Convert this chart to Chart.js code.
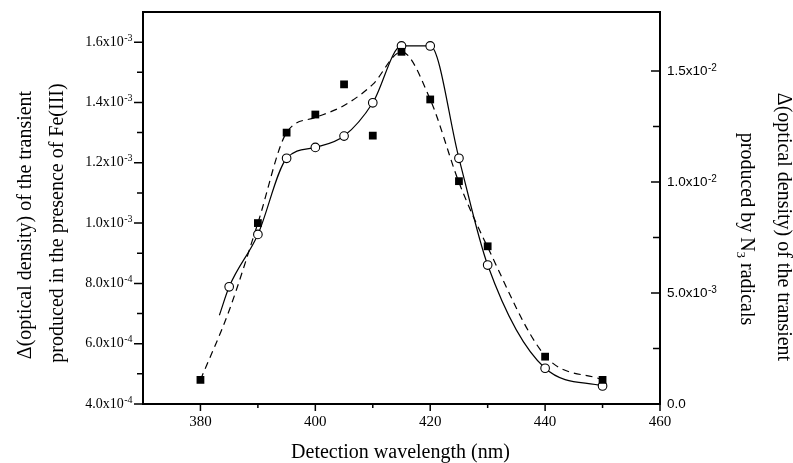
<!DOCTYPE html>
<html>
<head>
<meta charset="utf-8">
<script src="https://cdn.jsdelivr.net/npm/chart.js@4.4.1/dist/chart.umd.min.js"></script>
<style>
  html, body { margin: 0; padding: 0; background: #fff; }
  #chart { display: block; }
</style>
</head>
<body>
<canvas id="chart" width="793" height="463"></canvas>
<script>
// Fe(III) transient (left axis), filled squares
const feWavelengths = [380, 390, 395, 400, 405, 410, 415, 420, 425, 430, 440, 450];
const feValues = [4.8e-4, 1.0e-3, 1.30e-3, 1.36e-3, 1.46e-3, 1.29e-3, 1.568e-3, 1.41e-3, 1.139e-3, 0.923e-3, 5.57e-4, 4.8e-4];

// dashed curve drawn through the Fe(III) points
const feFitWavelengths = [380, 385, 390, 395, 400, 405, 410, 415, 420, 425, 430, 440, 450];
const feFitValues = [4.8e-4, 7.1e-4, 1.0e-3, 1.30e-3, 1.35e-3, 1.39e-3, 1.46e-3, 1.568e-3, 1.41e-3, 1.135e-3, 0.92e-3, 5.6e-4, 4.8e-4];

// N3 radical transient (right axis), open circles
const n3Wavelengths = [385, 390, 395, 400, 405, 410, 415, 420, 425, 430, 440, 450];
const n3Values = [5.28e-3, 7.64e-3, 11.07e-3, 11.56e-3, 12.07e-3, 13.57e-3, 16.13e-3, 16.13e-3, 11.07e-3, 6.26e-3, 1.61e-3, 0.81e-3];

// solid curve through the N3 points
const n3FitWavelengths = [383.3, 385, 390, 395, 400, 405, 410, 415, 420, 425, 430, 440, 450];
const n3FitValues = [4.0e-3, 5.28e-3, 7.64e-3, 11.07e-3, 11.56e-3, 12.07e-3, 13.57e-3, 16.13e-3, 16.13e-3, 11.07e-3, 6.26e-3, 1.61e-3, 0.81e-3];

// ticks
const xMajorTicks = [380, 400, 420, 440, 460];
const xMinorTicks = [390, 410, 430, 450];
const leftMajorTicks = [4e-4, 6e-4, 8e-4, 1.0e-3, 1.2e-3, 1.4e-3, 1.6e-3];
const leftTickLabels = [['4.0x10', '-4'], ['6.0x10', '-4'], ['8.0x10', '-4'], ['1.0x10', '-3'], ['1.2x10', '-3'], ['1.4x10', '-3'], ['1.6x10', '-3']];
const leftMinorTicks = [5e-4, 7e-4, 9e-4, 1.1e-3, 1.3e-3, 1.5e-3];
const rightMajorTicks = [0, 5e-3, 1.0e-2, 1.5e-2];
const rightTickLabels = [['0.0', ''], ['5.0x10', '-3'], ['1.0x10', '-2'], ['1.5x10', '-2']];
const rightMinorTicks = [2.5e-3, 7.5e-3, 1.25e-2];

const toPoints = (xs, ys) => xs.map((x, i) => ({ x: x, y: ys[i] }));

const SERIF = '"Liberation Serif", "Times New Roman", serif';
const SANS = '"Liberation Sans", Arial, sans-serif';

// label with a raised exponent
function drawExpLabel(ctx, x, y, base, sup, baseSize, supSize, family, align, raise) {
  ctx.font = baseSize + 'px ' + family;
  const wb = ctx.measureText(base).width;
  ctx.font = supSize + 'px ' + family;
  const ws = ctx.measureText(sup).width;
  const start = align === 'right' ? x - wb - ws : x;
  ctx.textAlign = 'left';
  ctx.textBaseline = 'middle';
  ctx.font = baseSize + 'px ' + family;
  ctx.fillText(base, start, y);
  ctx.font = supSize + 'px ' + family;
  ctx.fillText(sup, start + wb + 0.5, y - raise);
}

const axesPlugin = {
  id: 'axesPlugin',
  afterDraw(chart) {
    const ctx = chart.ctx;
    const area = chart.chartArea;
    const sx = chart.scales.x, sy = chart.scales.y, sy2 = chart.scales.y2;
    ctx.save();
    ctx.strokeStyle = '#000';
    ctx.fillStyle = '#000';

    // frame
    ctx.lineWidth = 2;
    ctx.strokeRect(area.left, area.top, area.right - area.left, area.bottom - area.top);

    ctx.lineWidth = 1.5;
    ctx.beginPath();
    xMajorTicks.forEach(v => { const p = sx.getPixelForValue(v); ctx.moveTo(p, area.bottom); ctx.lineTo(p, area.bottom + 7); });
    xMinorTicks.forEach(v => { const p = sx.getPixelForValue(v); ctx.moveTo(p, area.bottom); ctx.lineTo(p, area.bottom + 4); });
    leftMajorTicks.forEach(v => { const p = sy.getPixelForValue(v); ctx.moveTo(area.left, p); ctx.lineTo(area.left - 9, p); });
    leftMinorTicks.forEach(v => { const p = sy.getPixelForValue(v); ctx.moveTo(area.left, p); ctx.lineTo(area.left - 6, p); });
    rightMajorTicks.forEach(v => { const p = sy2.getPixelForValue(v); ctx.moveTo(area.right, p); ctx.lineTo(area.right - 9, p); });
    rightMinorTicks.forEach(v => { const p = sy2.getPixelForValue(v); ctx.moveTo(area.right, p); ctx.lineTo(area.right - 7, p); });
    ctx.stroke();

    // tick labels
    ctx.font = '15px ' + SERIF;
    ctx.textAlign = 'center';
    ctx.textBaseline = 'middle';
    xMajorTicks.forEach(v => ctx.fillText(String(v), sx.getPixelForValue(v), area.bottom + 18));

    leftMajorTicks.forEach((v, i) => {
      drawExpLabel(ctx, area.left - 11, sy.getPixelForValue(v), leftTickLabels[i][0], leftTickLabels[i][1], 14, 10, SERIF, 'right', 4);
    });
    rightMajorTicks.forEach((v, i) => {
      drawExpLabel(ctx, area.right + 7, sy2.getPixelForValue(v), rightTickLabels[i][0], rightTickLabels[i][1], 13.5, 10, SANS, 'left', 3);
    });

    // axis titles
    ctx.font = '20px ' + SERIF;
    ctx.textAlign = 'center';
    ctx.textBaseline = 'alphabetic';
    ctx.fillText('Detection wavelength (nm)', (area.left + area.right) / 2 - 1, 458);

    ctx.save();
    ctx.translate(26, 225);
    ctx.rotate(-Math.PI / 2);
    ctx.textBaseline = 'middle';
    ctx.fillText('\u0394(optical density) of the transient', 0, 0);
    ctx.restore();
    ctx.save();
    ctx.translate(58, 223);
    ctx.rotate(-Math.PI / 2);
    ctx.textBaseline = 'middle';
    ctx.fillText('produced in the presence of Fe(III)', 0, 0);
    ctx.restore();

    ctx.save();
    ctx.translate(783, 227);
    ctx.rotate(Math.PI / 2);
    ctx.textBaseline = 'middle';
    ctx.fillText('\u0394(optical density) of the transient', 0, 0);
    ctx.restore();

    ctx.save();
    ctx.translate(746, 229);
    ctx.rotate(Math.PI / 2);
    ctx.textBaseline = 'middle';
    ctx.textAlign = 'left';
    const p1 = 'produced by N', p2 = '3', p3 = ' radicals';
    ctx.font = '20px ' + SERIF;
    const w1 = ctx.measureText(p1).width, w3 = ctx.measureText(p3).width;
    ctx.font = '13px ' + SERIF;
    const w2 = ctx.measureText(p2).width;
    let x0 = -(w1 + w2 + w3) / 2;
    ctx.font = '20px ' + SERIF;
    ctx.fillText(p1, x0, 0);
    ctx.font = '13px ' + SERIF;
    ctx.fillText(p2, x0 + w1, 6);
    ctx.font = '20px ' + SERIF;
    ctx.fillText(p3, x0 + w1 + w2, 0);
    ctx.restore();

    ctx.restore();
  }
};

new Chart(document.getElementById('chart'), {
  type: 'scatter',
  data: {
    datasets: [
      {
        label: 'Fe(III)',
        data: toPoints(feWavelengths, feValues),
        yAxisID: 'y',
        showLine: false,
        pointStyle: 'rect',
        pointRadius: 5.5,
        pointBackgroundColor: '#000',
        pointBorderColor: '#000',
        pointBorderWidth: 0
      },
      {
        label: 'N3 radicals',
        data: toPoints(n3Wavelengths, n3Values),
        yAxisID: 'y2',
        showLine: false,
        pointStyle: 'circle',
        pointRadius: 4.3,
        pointBackgroundColor: '#fff',
        pointBorderColor: '#000',
        pointBorderWidth: 1.1
      },
      {
        label: 'Fe(III) curve',
        data: toPoints(feFitWavelengths, feFitValues),
        yAxisID: 'y',
        showLine: true,
        pointRadius: 0,
        borderColor: '#000',
        borderWidth: 1.2,
        borderDash: [7, 5],
        cubicInterpolationMode: 'monotone'
      },
      {
        label: 'N3 curve',
        data: toPoints(n3FitWavelengths, n3FitValues),
        yAxisID: 'y2',
        showLine: true,
        pointRadius: 0,
        borderColor: '#000',
        borderWidth: 1.2,
        cubicInterpolationMode: 'monotone'
      }
    ]
  },
  options: {
    responsive: false,
    animation: false,
    devicePixelRatio: 1,
    layout: { padding: { top: 12, left: 0, right: 0, bottom: 0 } },
    plugins: {
      legend: { display: false },
      tooltip: { enabled: false }
    },
    scales: {
      x: {
        type: 'linear',
        min: 370,
        max: 460,
        ticks: { display: false },
        grid: { display: false },
        border: { display: false },
        afterFit: (s) => { s.height = 59; }
      },
      y: {
        position: 'left',
        min: 4e-4,
        max: 1.7e-3,
        ticks: { display: false },
        grid: { display: false },
        border: { display: false },
        afterFit: (s) => { s.width = 143; }
      },
      y2: {
        position: 'right',
        min: 0,
        max: 0.01766,
        ticks: { display: false },
        grid: { display: false },
        border: { display: false },
        afterFit: (s) => { s.width = 133; }
      }
    }
  },
  plugins: [axesPlugin]
});
</script>
</body>
</html>
